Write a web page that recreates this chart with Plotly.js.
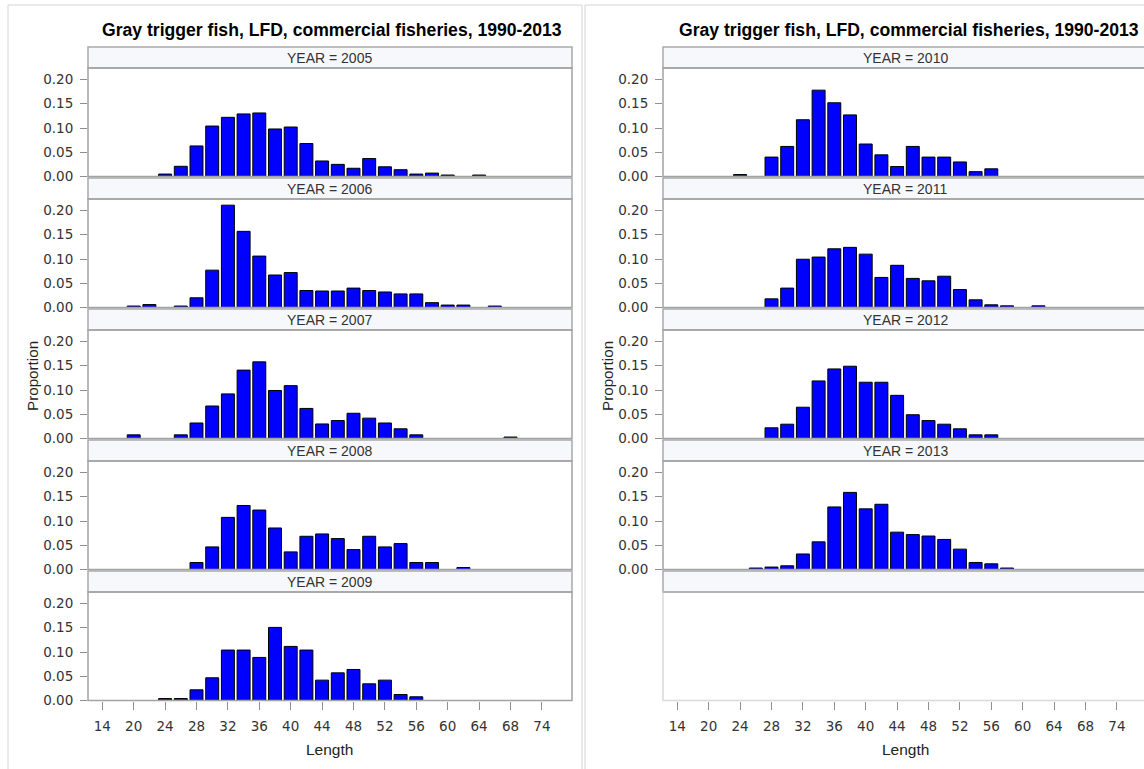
<!DOCTYPE html>
<html>
<head>
<meta charset="utf-8">
<script src="https://cdn.plot.ly/plotly-3.0.1.min.js"></script>
<style>
  html, body { margin: 0; padding: 0; background: #ffffff; }
  #chart { width: 1144px; height: 769px; }
</style>
</head>
<body>
<div id="chart"></div>
<script>
// ---------------- DATA ----------------
const chartTitle = "Gray trigger fish, LFD, commercial fisheries, 1990-2013";
const xTickLabels = ["14","20","24","28","32","36","40","44","48","52","56","60","64","68","74"];
const yTickLabels = ["0.00","0.05","0.10","0.15","0.20"];
const yTickValues = [0, 0.05, 0.10, 0.15, 0.20];

const len2005 = [24,26,28,30,32,34,36,38,40,42,44,46,48,50,52,54,56,58,60,64];
const prop2005 = [0.005,0.021,0.063,0.104,0.122,0.129,0.131,0.098,0.102,0.068,0.032,0.025,0.017,0.037,0.020,0.014,0.005,0.007,0.003,0.003];

const len2006 = [20,22,26,28,30,32,34,36,38,40,42,44,46,48,50,52,54,56,58,60,62,66];
const prop2006 = [0.003,0.006,0.003,0.020,0.077,0.211,0.157,0.106,0.067,0.072,0.035,0.034,0.034,0.040,0.035,0.032,0.028,0.028,0.010,0.005,0.005,0.003];

const len2007 = [20,26,28,30,32,34,36,38,40,42,44,46,48,50,52,54,56,68];
const prop2007 = [0.0075,0.0075,0.032,0.067,0.092,0.141,0.158,0.099,0.109,0.062,0.030,0.037,0.052,0.042,0.032,0.020,0.0075,0.003];

const len2008 = [28,30,32,34,36,38,40,42,44,46,48,50,52,54,56,58,62];
const prop2008 = [0.0144,0.0466,0.1075,0.132,0.1226,0.0856,0.0363,0.0685,0.0733,0.0637,0.041,0.0685,0.0466,0.0534,0.0144,0.0144,0.004];

const len2009 = [24,26,28,30,32,34,36,38,40,42,44,46,48,50,52,54,56];
const prop2009 = [0.004,0.004,0.022,0.0468,0.104,0.104,0.0888,0.1507,0.1115,0.104,0.042,0.057,0.064,0.0344,0.042,0.0124,0.0076];

const len2010 = [24,28,30,32,34,36,38,40,42,44,46,48,50,52,54,56];
const prop2010 = [0.004,0.040,0.062,0.117,0.178,0.152,0.127,0.067,0.0446,0.0206,0.062,0.040,0.040,0.030,0.010,0.0158];

const len2011 = [28,30,32,34,36,38,40,42,44,46,48,50,52,54,56,58,62];
const prop2011 = [0.0178,0.040,0.0995,0.104,0.121,0.124,0.110,0.062,0.087,0.060,0.055,0.0645,0.037,0.0158,0.0055,0.0034,0.0034];

const len2012 = [28,30,32,34,36,38,40,42,44,46,48,50,52,54,56];
const prop2012 = [0.022,0.0295,0.0645,0.1187,0.1434,0.149,0.116,0.116,0.089,0.049,0.037,0.0295,0.020,0.0075,0.0075];

const len2013 = [26,28,30,32,34,36,38,40,42,44,46,48,50,52,54,56,58];
const prop2013 = [0.003,0.005,0.0076,0.032,0.057,0.129,0.159,0.125,0.1345,0.077,0.072,0.069,0.062,0.042,0.0145,0.0117,0.003];

const leftYears = ["2005","2006","2007","2008","2009"];
const rightYears = ["2010","2011","2012","2013"];
const seriesByYear = {
  "2005": [len2005, prop2005], "2006": [len2006, prop2006], "2007": [len2007, prop2007],
  "2008": [len2008, prop2008], "2009": [len2009, prop2009], "2010": [len2010, prop2010],
  "2011": [len2011, prop2011], "2012": [len2012, prop2012], "2013": [len2013, prop2013]
};

// ---------------- LAYOUT GEOMETRY ----------------
const W = 1144, H = 769;
const fx = x => x / W;
const fy = y => 1 - y / H;
const FONT = "Liberation Sans, Arial, Helvetica, sans-serif";
const TICKFONT = "DejaVu Sans, Liberation Sans, sans-serif";
const PXU = 7.85;          // pixels per length unit
const tickPos = [];
for (let i = 0; i < xTickLabels.length; i++) tickPos.push(16 + 4 * i);

const cols = [
  { x0: 88, x1: 572, tick16: 102.3, years: leftYears, titleX: 332, ylabX: 32, frameX0: 8, frameX1: 582 },
  { x0: 663, x1: 1144, tick16: 677.3, years: rightYears.concat([null]), titleX: 909, ylabX: 607, frameX0: 585, frameX1: 1150 }
];
const headerTop0 = 47, headerH = 21, plotH = 108.5, period = 131;
const yTop = 0.2237;

const data = [];
const layout = {
  width: W, height: H,
  margin: { l: 0, r: 0, t: 0, b: 0, pad: 0 },
  paper_bgcolor: "#ffffff", plot_bgcolor: "rgba(0,0,0,0)",
  showlegend: false,
  hovermode: false,
  font: { family: FONT, color: "#333333", size: 13 },
  shapes: [], annotations: []
};

let k = 0;
cols.forEach((c, ci) => {
  const xmin = 16 - (c.tick16 - c.x0) / PXU;
  const xmax = 16 + (c.x1 - c.tick16) / PXU;

  // outer image frame
  layout.shapes.push({ type: "line", xref: "paper", yref: "paper", x0: fx(c.frameX0), x1: fx(c.frameX1), y0: fy(5), y1: fy(5), line: { color: "#d4d4d4", width: 1 } });
  layout.shapes.push({ type: "line", xref: "paper", yref: "paper", x0: fx(c.frameX0), x1: fx(c.frameX0), y0: fy(5), y1: fy(770), line: { color: "#d4d4d4", width: 1 } });
  if (ci === 0) layout.shapes.push({ type: "line", xref: "paper", yref: "paper", x0: fx(c.frameX1), x1: fx(c.frameX1), y0: fy(5), y1: fy(770), line: { color: "#d4d4d4", width: 1 } });

  // chart title
  layout.annotations.push({ xref: "paper", yref: "paper", x: fx(c.titleX), y: fy(30), text: "<b>" + chartTitle + "</b>", showarrow: false, xanchor: "center", yanchor: "middle", font: { family: FONT, size: 17.6, color: "#000000" } });
  // y title
  layout.annotations.push({ xref: "paper", yref: "paper", x: fx(c.ylabX), y: fy(376), text: "Proportion", textangle: -90, showarrow: false, xanchor: "center", yanchor: "middle", font: { family: FONT, size: 15.2, color: "#222222" } });
  // x title
  layout.annotations.push({ xref: "paper", yref: "paper", x: fx((88 + 572) / 2 + (ci ? 575 : 0)), y: fy(749), text: "Length", showarrow: false, xanchor: "center", yanchor: "middle", font: { family: FONT, size: 15.5, color: "#222222" } });

  c.years.forEach((yr, ri) => {
    k++;
    const hTop = headerTop0 + ri * period;
    const pTop = hTop + headerH;
    const pBot = pTop + plotH;
    const isBottom = ri === 4;
    const xa = "xaxis" + (k === 1 ? "" : k), ya = "yaxis" + (k === 1 ? "" : k);
    const xr = "x" + (k === 1 ? "" : k), yr2 = "y" + (k === 1 ? "" : k);

    layout[xa] = {
      domain: [fx(c.x0), Math.min(1, fx(c.x1))], anchor: yr2,
      range: [xmin, xmax], fixedrange: true,
      showgrid: false, zeroline: false, showline: false,
      tickmode: "array", tickvals: tickPos, ticktext: xTickLabels,
      showticklabels: isBottom, ticks: isBottom ? "outside" : "",
      ticklen: 8, tickwidth: 1, tickcolor: "#8f8f8f",
      ticklabelstandoff: 5,
      tickfont: { family: TICKFONT, size: 13.5, color: "#333333" }
    };
    layout[ya] = {
      domain: [fy(pBot), fy(pTop)], anchor: xr,
      range: [0, yTop], fixedrange: true,
      showgrid: false, zeroline: false, showline: false,
      tickmode: "array", tickvals: yTickValues, ticktext: yTickLabels,
      showticklabels: yr !== null, ticks: yr !== null ? "outside" : "",
      ticklen: 7, tickwidth: 1, tickcolor: "#8f8f8f",
      ticklabelstandoff: 4,
      tickfont: { family: TICKFONT, size: 13.5, color: "#333333" }
    };

    // header strip
    layout.shapes.push({ type: "rect", xref: "paper", yref: "paper", x0: fx(c.x0), x1: fx(c.x1 + (ci ? 10 : 0)), y0: fy(pTop), y1: fy(hTop), fillcolor: "#f7f8fc", line: { color: "#a9a9a9", width: 1.5 }, layer: "below" });
    if (yr !== null) {
      layout.annotations.push({ xref: "paper", yref: "paper", x: fx((88 + 572) / 2 + (ci ? 575 : 0)), y: fy(hTop + headerH / 2 + 0.5), text: "YEAR = " + yr, showarrow: false, xanchor: "center", yanchor: "middle", font: { family: FONT, size: 14, color: "#333333" } });
      // plot frame
      layout.shapes.push({ type: "rect", xref: "paper", yref: "paper", x0: fx(c.x0), x1: fx(c.x1 + (ci ? 10 : 0)), y0: fy(pBot), y1: fy(pTop), line: { color: "#a3a3a3", width: 1.5 }, layer: "above" });
      const s = seriesByYear[yr];
      data.push({
        type: "bar", x: s[0], y: s[1], xaxis: xr, yaxis: yr2, width: 1.65,
        marker: { color: "#0000ff", line: { color: "#000000", width: 1 } },
        hoverinfo: "skip"
      });
    } else {
      // empty cell frame (light)
      layout.shapes.push({ type: "rect", xref: "paper", yref: "paper", x0: fx(c.x0), x1: fx(c.x1 + 10), y0: fy(pBot), y1: fy(pTop), line: { color: "#d9d9d9", width: 1.5 }, layer: "below" });
      layout.shapes.push({ type: "line", xref: "paper", yref: "paper", x0: fx(c.x0), x1: fx(c.x1 + 10), y0: fy(pTop), y1: fy(pTop), line: { color: "#a9a9a9", width: 1.5 } });
      data.push({ type: "bar", x: [], y: [], xaxis: xr, yaxis: yr2, hoverinfo: "skip" });
    }
  });
});

Plotly.newPlot("chart", data, layout, { staticPlot: true, displayModeBar: false });
</script>
</body>
</html>
